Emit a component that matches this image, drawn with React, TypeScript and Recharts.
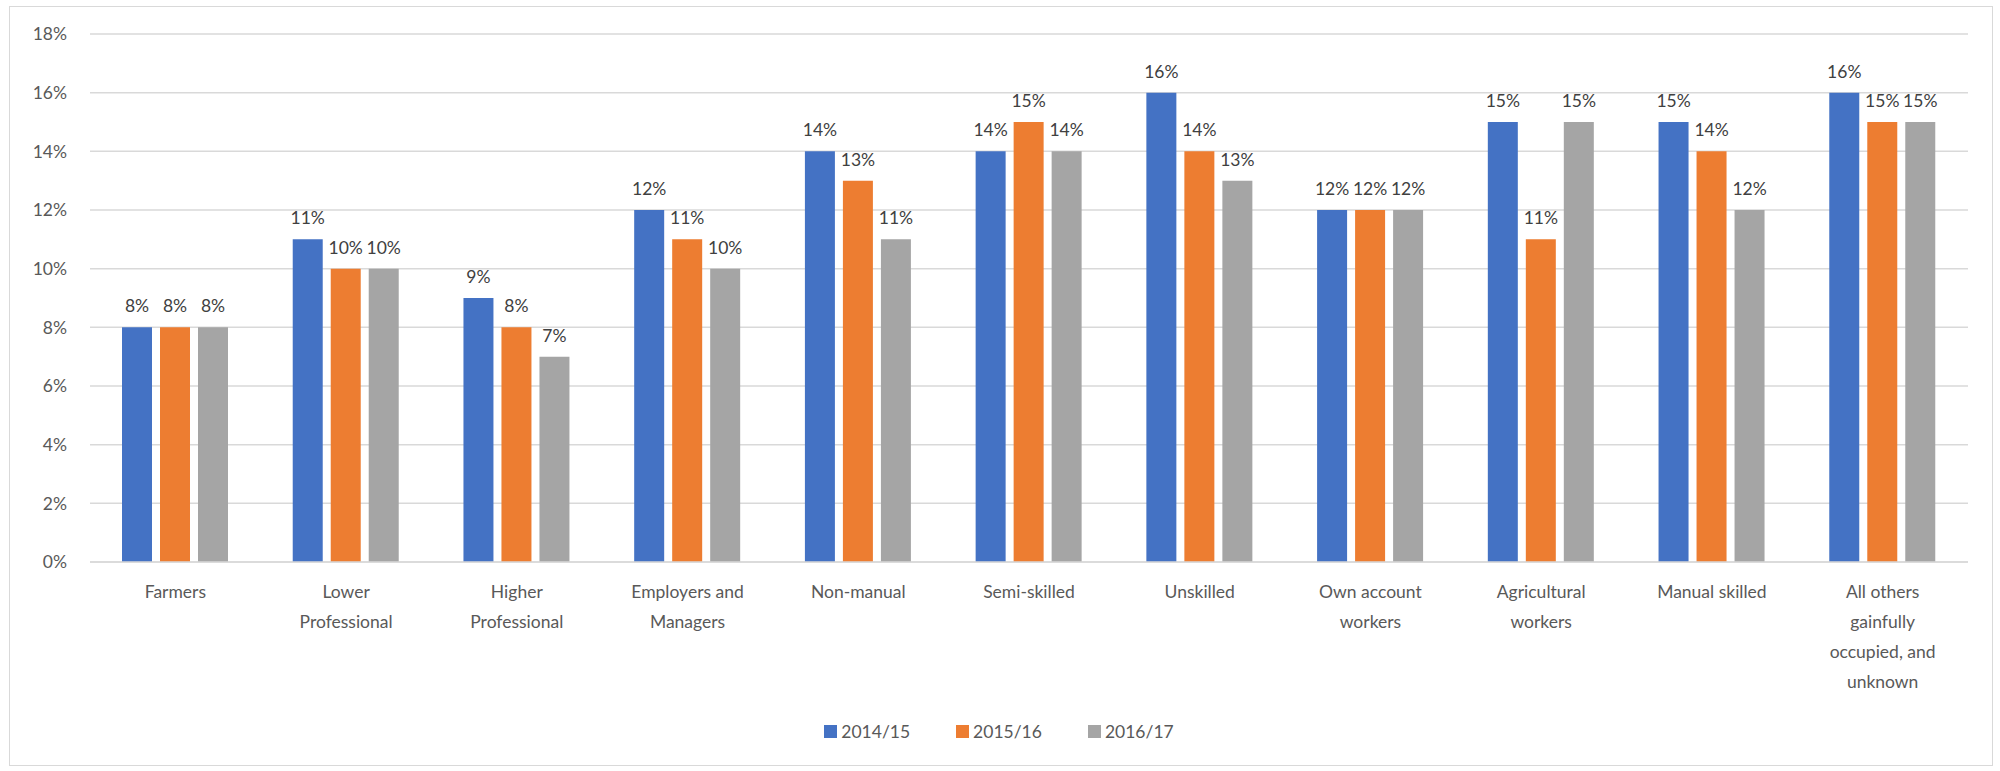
import React from 'react';
import { BarChart, Bar, XAxis, YAxis, CartesianGrid, LabelList, Legend } from 'recharts';

const categories = [
  'Farmers',
  'Lower Professional',
  'Higher Professional',
  'Employers and Managers',
  'Non-manual',
  'Semi-skilled',
  'Unskilled',
  'Own account workers',
  'Agricultural workers',
  'Manual skilled',
  'All others gainfully occupied, and unknown',
];

// how each category label wraps under the axis
const tickLines = [
  ['Farmers'],
  ['Lower', 'Professional'],
  ['Higher', 'Professional'],
  ['Employers and', 'Managers'],
  ['Non-manual'],
  ['Semi-skilled'],
  ['Unskilled'],
  ['Own account', 'workers'],
  ['Agricultural', 'workers'],
  ['Manual skilled'],
  ['All others', 'gainfully', 'occupied, and', 'unknown'],
];

const values2014 = [8, 11, 9, 12, 14, 14, 16, 12, 15, 15, 16];
const values2015 = [8, 10, 8, 11, 13, 15, 14, 12, 11, 14, 15];
const values2016 = [8, 10, 7, 10, 11, 14, 13, 12, 15, 12, 15];

const seriesNames = ['2014/15', '2015/16', '2016/17'];
const seriesColors = ['#4472C4', '#ED7D31', '#A5A5A5'];
const yTicks = [0, 2, 4, 6, 8, 10, 12, 14, 16, 18];

const FONT = 'Lato, "Open Sans", sans-serif';

const data = categories.map((name, i) => ({
  name,
  a: values2014[i],
  b: values2015[i],
  c: values2016[i],
}));

function CategoryTick({ x, y, index }: any) {
  const lines = tickLines[index] || [];
  return (
    <text x={x} y={y} textAnchor="middle" fill="#595959" fontSize={17.5} fontFamily={FONT}>
      {lines.map((line, i) => (
        <tspan key={i} x={x} dy={i === 0 ? 36 : 30}>
          {line}
        </tspan>
      ))}
    </text>
  );
}

function LegendContent() {
  return (
    <div style={{ display: 'flex', justifyContent: 'center', fontFamily: FONT, fontSize: 17.5, color: '#595959' }}>
      {seriesNames.map((n, i) => (
        <div key={n} style={{ display: 'flex', alignItems: 'center', marginRight: i < 2 ? 46 : 0 }}>
          <span style={{ width: 13, height: 13, background: seriesColors[i], marginRight: 4, display: 'inline-block' }} />
          <span>{n}</span>
        </div>
      ))}
    </div>
  );
}

const pct = (v: any) => `${v}%`;

export default function App() {
  return (
    <div style={{ position: 'absolute', left: 0, top: 0, width: 2000, height: 771, background: '#fff' }}>
      <div
        style={{
          position: 'absolute',
          left: 9,
          top: 6,
          width: 1982,
          height: 758,
          border: '1px solid #d9d9d9',
        }}
      />
      <BarChart
        width={2000}
        height={771}
        data={data}
        barSize={30}
        barGap={8}
        margin={{ top: 34, right: 32, left: 30, bottom: 155 }}
      >
        <CartesianGrid vertical={false} stroke="#d9d9d9" strokeWidth={1.5} />
        <XAxis
          dataKey="name"
          tick={<CategoryTick />}
          tickLine={false}
          tickSize={0}
          tickMargin={0}
          interval={0}
          axisLine={{ stroke: '#d9d9d9', strokeWidth: 1.5 }}
        />
        <YAxis
          width={60}
          domain={[0, 18]}
          ticks={yTicks}
          tickFormatter={pct}
          axisLine={false}
          tickLine={false}
          tickSize={0}
          tickMargin={23}
          tick={{ fill: '#595959', fontSize: 17.5, fontFamily: FONT }}
        />
        <Legend verticalAlign="bottom" height={24} content={<LegendContent />} wrapperStyle={{ bottom: 26 }} />
        <Bar dataKey="a" name={seriesNames[0]} fill={seriesColors[0]} isAnimationActive={false}>
          <LabelList dataKey="a" position="top" offset={15} formatter={pct} fill="#404040" fontSize={17.5} fontFamily={FONT} />
        </Bar>
        <Bar dataKey="b" name={seriesNames[1]} fill={seriesColors[1]} isAnimationActive={false}>
          <LabelList dataKey="b" position="top" offset={15} formatter={pct} fill="#404040" fontSize={17.5} fontFamily={FONT} />
        </Bar>
        <Bar dataKey="c" name={seriesNames[2]} fill={seriesColors[2]} isAnimationActive={false}>
          <LabelList dataKey="c" position="top" offset={15} formatter={pct} fill="#404040" fontSize={17.5} fontFamily={FONT} />
        </Bar>
      </BarChart>
    </div>
  );
}
